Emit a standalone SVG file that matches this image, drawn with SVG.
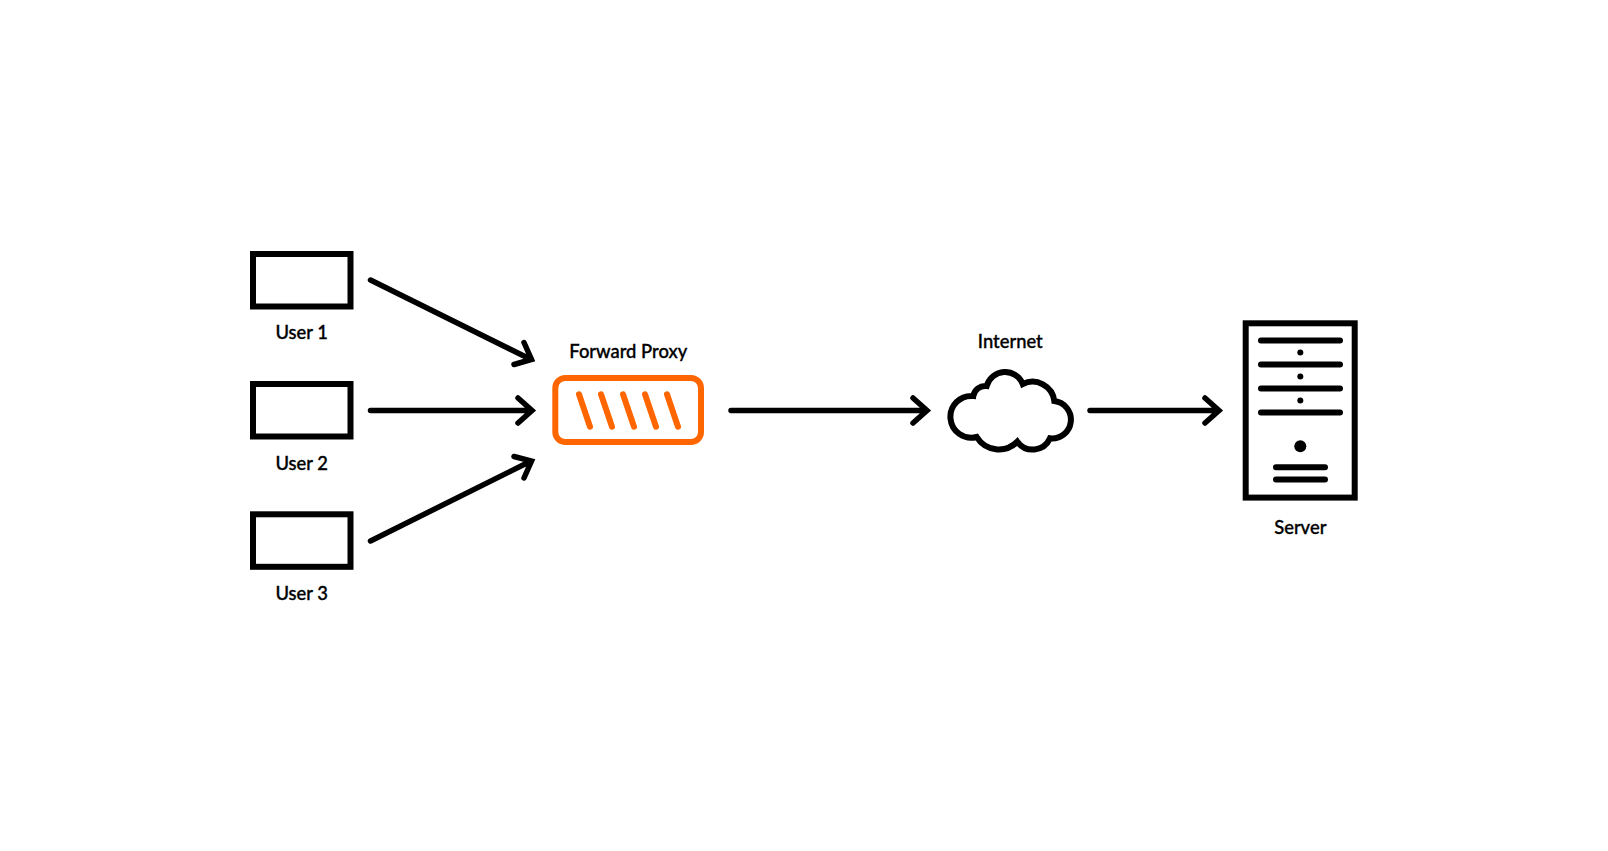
<svg xmlns="http://www.w3.org/2000/svg" width="1608" height="851" viewBox="0 0 1608 851">
<style>
text{font-family:"Lato","Liberation Sans",sans-serif;font-size:18.400px;font-weight:500;fill:#000;stroke:#000;stroke-width:.35;text-anchor:middle}
.box{fill:#fff;stroke:#000;stroke-width:6}
.ln{fill:none;stroke:#000;stroke-width:6;stroke-linecap:round}
.conn{fill:none;stroke:#000;stroke-width:5.500;stroke-linecap:round}
.slash{fill:none;stroke:#ff6600;stroke-width:6;stroke-linecap:round}
</style>
<rect width="1608" height="851" fill="#fff"/>
<g id="connectors">
<path class="conn" d="M370.500 280L531 359.500M524 342.500L531.500 359.500L514 364.500"/>
<path class="conn" d="M370.500 410.500H531M518 398L532 410.500L518 423"/>
<path class="conn" d="M370.500 541L531 461M514 456.500L531.500 461L524 478"/>
<path class="conn" d="M731 410.500H926.500M913 398L927 410.500L913 423"/>
<path class="conn" d="M1090 410.500H1218.500M1205 398L1219 410.500L1205 423"/>
</g>
<g id="user1"><rect class="box" x="253" y="254" width="97.500" height="52.500"/><text x="301.700" y="338.700">User 1</text></g>
<g id="user2"><rect class="box" x="253" y="384" width="97.500" height="52.500"/><text x="301.700" y="469.700">User 2</text></g>
<g id="user3"><rect class="box" x="253" y="514.300" width="97.500" height="52.500"/><text x="301.700" y="599.700">User 3</text></g>
<g id="proxy">
<rect x="555.300" y="378" width="145.700" height="64" rx="10" fill="#fff" stroke="#ff6600" stroke-width="6"/>
<path class="slash" d="M579 394.300L590 426.700M601 394.300L612 426.700M623 394.300L634 426.700M645 394.300L656 426.700M667 394.300L678 426.700"/>
<text x="628.300" y="357.700">Forward Proxy</text>
</g>
<g id="internet">
<path fill="#fff" stroke="#000" stroke-width="6" d="M973.300 396A20.900 20.900 0 1 0 976.700 437A26 26 0 0 0 1017.300 441.700A19 19 0 0 0 1050 438.300A18.750 18.750 0 0 0 1054.300 401A22 22 0 0 0 1022.700 384A19 19 0 0 0 986.700 386A12 12 0 0 0 973.300 396Z"/>
<text x="1010.300" y="347.700">Internet</text>
</g>
<g id="server">
<rect class="box" x="1245.700" y="323.300" width="109" height="174.300"/>
<path class="ln" d="M1261 340.500H1340M1261 364.500H1340M1261 388.500H1340M1261 412.500H1340M1276 467.300H1325M1276 479.500H1325"/>
<circle cx="1300.300" cy="352.500" r="3"/><circle cx="1300.300" cy="376.500" r="3"/><circle cx="1300.300" cy="400.500" r="3"/><circle cx="1300.300" cy="446.300" r="6"/>
<text x="1300.300" y="534">Server</text>
</g>
</svg>
